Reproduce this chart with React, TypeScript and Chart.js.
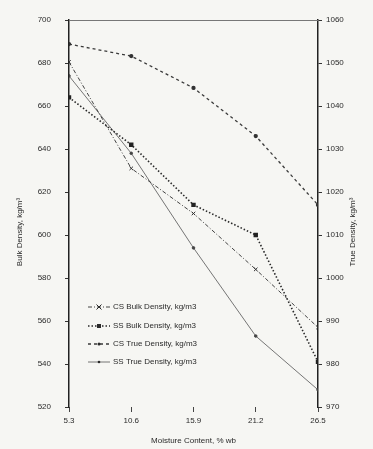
import React, { useEffect, useRef } from "react";
import { Chart, registerables } from "chart.js";

Chart.register(...registerables);

const xValues = [5.3, 10.6, 15.9, 21.2, 26.5];
const xLabels = ["5.3", "10.6", "15.9", "21.2", "26.5"];
const leftTicks = [520, 540, 560, 580, 600, 620, 640, 660, 680, 700];
const rightTicks = [970, 980, 990, 1000, 1010, 1020, 1030, 1040, 1050, 1060];

const csBulk = [680.5, 631, 610, 584, 557];
const ssBulk = [664, 642, 614, 600, 541];
const csTrue = [1054.4, 1051.6, 1044.2, 1033, 1017];
const ssTrue = [1047, 1029, 1007, 986.5, 974];

const seriesNames = [
  "CS Bulk Density, kg/m3",
  "SS Bulk Density, kg/m3",
  "CS True Density, kg/m3",
  "SS True Density, kg/m3",
];

const FONT = "'Liberation Sans', Arial, sans-serif";
const INK = "#2a2a2a";

const toPts = (arr: number[]) => arr.map((v, i) => ({ x: xValues[i], y: v }));

function drawMarker(ctx: CanvasRenderingContext2D, style: string, r: number, x: number, y: number) {
  ctx.save();
  ctx.fillStyle = INK;
  ctx.strokeStyle = INK;
  ctx.lineWidth = 1;
  ctx.beginPath();
  if (style === "rect") {
    ctx.fillRect(x - r, y - r, 2 * r, 2 * r);
  } else if (style === "crossRot") {
    ctx.moveTo(x - r, y - r);
    ctx.lineTo(x + r, y + r);
    ctx.moveTo(x + r, y - r);
    ctx.lineTo(x - r, y + r);
    ctx.stroke();
  } else {
    ctx.arc(x, y, r, 0, Math.PI * 2);
    ctx.fill();
  }
  ctx.restore();
}

const decorPlugin = {
  id: "decor",
  beforeDraw(chart: any) {
    const { ctx, width, height } = chart;
    ctx.save();
    ctx.fillStyle = "#f6f6f3";
    ctx.fillRect(0, 0, width, height);
    ctx.restore();
  },
  afterDraw(chart: any) {
    const { ctx, chartArea } = chart;
    ctx.save();
    ctx.strokeStyle = "#777";
    ctx.lineWidth = 1;
    ctx.beginPath();
    ctx.moveTo(chartArea.left, chartArea.top + 0.5);
    ctx.lineTo(chartArea.right, chartArea.top + 0.5);
    ctx.stroke();

    ctx.fillStyle = INK;
    ctx.font = `8px ${FONT}`;
    ctx.textAlign = "center";
    ctx.textBaseline = "middle";
    ctx.fillText("Moisture Content, % wb", (chartArea.left + chartArea.right) / 2, 441);
    ctx.save();
    ctx.translate(20, 232);
    ctx.rotate(-Math.PI / 2);
    ctx.fillText("Bulk Density, kg/m³", 0, 0);
    ctx.restore();
    ctx.save();
    ctx.translate(353, 232);
    ctx.rotate(-Math.PI / 2);
    ctx.fillText("True Density, kg/m³", 0, 0);
    ctx.restore();

    const rows = [307, 326, 344, 362];
    chart.data.datasets.forEach((ds: any, i: number) => {
      const y = rows[i];
      ctx.save();
      ctx.strokeStyle = ds.borderColor;
      ctx.lineWidth = ds.borderWidth;
      ctx.setLineDash(ds.borderDash || []);
      ctx.beginPath();
      ctx.moveTo(88, y);
      ctx.lineTo(110, y);
      ctx.stroke();
      ctx.setLineDash([]);
      if (ds.pointRadius > 0) drawMarker(ctx, ds.pointStyle, ds.pointRadius, 99, y);
      ctx.restore();
      ctx.fillStyle = INK;
      ctx.textAlign = "left";
      ctx.font = `8px ${FONT}`;
      ctx.fillText(ds.label, 113, y);
    });
    ctx.restore();
  },
};

export default function App() {
  const ref = useRef<HTMLCanvasElement | null>(null);
  useEffect(() => {
    if (!ref.current) return;
    const chart = new Chart(ref.current, {
      type: "line",
      data: {
        datasets: [
          {
            label: seriesNames[0],
            data: toPts(csBulk),
            yAxisID: "y",
            borderColor: "#444",
            borderWidth: 1,
            borderDash: [4, 2, 1, 2],
            pointStyle: "crossRot",
            pointRadius: 2.5,
            pointBorderColor: "#333",
            pointBackgroundColor: "#333",
          },
          {
            label: seriesNames[1],
            data: toPts(ssBulk),
            yAxisID: "y",
            borderColor: "#2a2a2a",
            borderWidth: 1.6,
            borderDash: [1.5, 2],
            pointStyle: "rect",
            pointRadius: 2,
            pointBorderColor: "#222",
            pointBackgroundColor: "#222",
          },
          {
            label: seriesNames[2],
            data: toPts(csTrue),
            yAxisID: "y1",
            borderColor: "#3a3a3a",
            borderWidth: 1.3,
            borderDash: [3, 3],
            pointStyle: "circle",
            pointRadius: 1.5,
            pointBorderColor: "#333",
            pointBackgroundColor: "#333",
          },
          {
            label: seriesNames[3],
            data: toPts(ssTrue),
            yAxisID: "y1",
            borderColor: "#666",
            borderWidth: 0.9,
            borderDash: [],
            pointStyle: "circle",
            pointRadius: 1.3,
            pointBorderColor: "#444",
            pointBackgroundColor: "#444",
          },
        ],
      },
      options: {
        animation: false,
        responsive: false,
        maintainAspectRatio: false,
        layout: { padding: { top: 20, left: 0, right: 0, bottom: 0 } },
        plugins: { legend: { display: false }, tooltip: { enabled: false } },
        scales: {
          x: {
            type: "linear",
            min: 5.3,
            max: 26.5,
            afterBuildTicks: (s: any) => {
              s.ticks = xValues.map((v) => ({ value: v }));
            },
            afterFit: (s: any) => {
              s.height = 42;
            },
            border: { display: false },
            grid: { drawOnChartArea: false, tickLength: 5, color: "#444" },
            ticks: {
              padding: 4,
              color: INK,
              font: { family: FONT, size: 8 },
              maxRotation: 0,
              autoSkip: false,
              callback: (_v: any, i: number) => xLabels[i],
            },
          },
          y: {
            type: "linear",
            position: "left",
            min: 520,
            max: 700,
            afterBuildTicks: (s: any) => {
              s.ticks = leftTicks.map((v) => ({ value: v }));
            },
            afterFit: (s: any) => {
              s.width = 69;
            },
            border: { display: true, color: "#222", width: 1.5 },
            grid: { drawOnChartArea: false, tickLength: 4, color: "#333" },
            ticks: {
              padding: 14,
              color: INK,
              font: { family: FONT, size: 8 },
              autoSkip: false,
              callback: (v: any) => String(v),
            },
          },
          y1: {
            type: "linear",
            position: "right",
            min: 970,
            max: 1060,
            afterBuildTicks: (s: any) => {
              s.ticks = rightTicks.map((v) => ({ value: v }));
            },
            afterFit: (s: any) => {
              s.width = 55;
            },
            border: { display: true, color: "#222", width: 1.5 },
            grid: { drawOnChartArea: false, tickLength: 4, color: "#333" },
            ticks: {
              padding: 4,
              color: INK,
              font: { family: FONT, size: 8 },
              autoSkip: false,
              callback: (v: any) => String(v),
            },
          },
        },
      },
      plugins: [decorPlugin],
    } as any);
    return () => chart.destroy();
  }, []);
  return (
    <div style={{ position: "absolute", left: 0, top: 0, width: 373, height: 449 }}>
      <canvas ref={ref} width={373} height={449} style={{ width: 373, height: 449, display: "block" }} />
    </div>
  );
}
